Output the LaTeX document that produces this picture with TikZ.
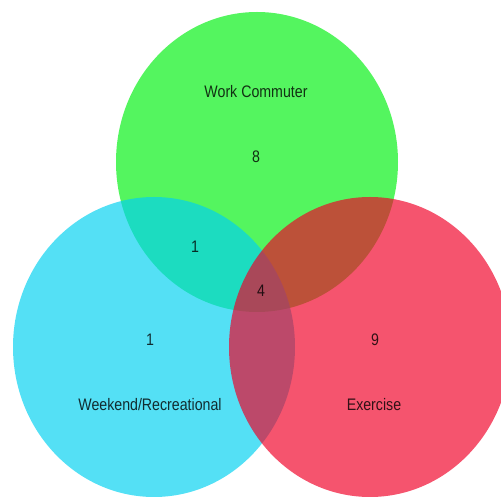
\documentclass[tikz,border=0pt]{standalone}
\usepackage{fontspec}
\setmainfont{Liberation Sans}[FakeStretch=0.85]
\definecolor{wgreen}{RGB}{0,240,16}
\definecolor{wblue}{RGB}{0,209,240}
\definecolor{wred}{RGB}{240,0,39}
\begin{document}
\begin{tikzpicture}[x=0.02cm,y=0.02cm,
  set/.style={fill opacity=0.67},
  lbl/.style={text opacity=0.8,font=\fontsize{9.5}{11}\selectfont}]
\useasboundingbox (0,0) rectangle (501,497);
\clip (0,0) rectangle (501,497);
% the three sets
\fill[wgreen,set] (257,335) ellipse [x radius=141,y radius=150];
\fill[wblue,set] (154,150) ellipse [x radius=141,y radius=150];
\fill[wred,set] (370,150) ellipse [x radius=141,y radius=150];
% labels and counts
\node[lbl] (commuter) at (256,405) {Work Commuter};
\node[lbl] (ncommuter) at (256,340) {8};
\node[lbl] (ncomweek) at (195,250) {1};
\node[lbl] (nall) at (261,206) {4};
\node[lbl] (nweekend) at (150,157) {1};
\node[lbl] (nexercise) at (375,157) {9};
\node[lbl] (weekend) at (150,92) {Weekend/Recreational};
\node[lbl] (exercise) at (374,92) {Exercise};
\end{tikzpicture}
\end{document}
